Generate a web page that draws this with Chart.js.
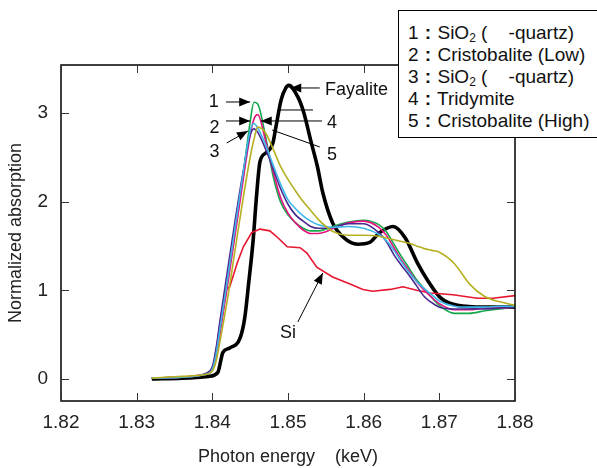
<!DOCTYPE html>
<html>
<head>
<meta charset="utf-8">
<script src="https://cdn.jsdelivr.net/npm/chart.js@4"></script>
<style>
  body { margin: 0; background: #fff; }
  #wrap { position: relative; width: 597px; height: 468px; }
  #legendBox {
    position: absolute; left: 398px; top: 10px; width: 215px; height: 128px;
    box-sizing: border-box; border: 1.5px solid #000; background: #fff;
    padding: 11px 0 0 9px; font: 19px "Liberation Sans", Arial, sans-serif;
    line-height: 22px; color: #111; white-space: pre;
  }
  #legendBox sub { font-size: 12px; line-height: 0; vertical-align: -3px; }
  #legendBox b { margin: 0 1px; }
</style>
</head>
<body>
<div id="wrap">
  <canvas id="chart" width="597" height="468"></canvas>
  <div id="legendBox"></div>
</div>
<script>
// shared energy grid for the SiO2 polymorphs (keV)
const silicaX = [1.832, 1.836, 1.839, 1.840, 1.8405, 1.841, 1.842, 1.843, 1.844, 1.845, 1.8455, 1.846, 1.847, 1.848, 1.849, 1.850, 1.851, 1.852, 1.853, 1.854, 1.855, 1.856, 1.858, 1.860, 1.862, 1.863, 1.864, 1.865, 1.866, 1.867, 1.868, 1.869, 1.870, 1.872, 1.874, 1.876, 1.878, 1.880];
const quartzA = [0.01, 0.02, 0.05, 0.11, 0.28, 0.55, 1.10, 1.68, 2.25, 2.90, 3.12, 3.10, 2.75, 2.30, 2.00, 1.85, 1.76, 1.70, 1.67, 1.67, 1.69, 1.72, 1.77, 1.79, 1.74, 1.66, 1.52, 1.38, 1.25, 1.12, 1.02, 0.92, 0.83, 0.74, 0.74, 0.77, 0.79, 0.81];
const cristoLow = [0.01, 0.02, 0.05, 0.10, 0.25, 0.50, 1.05, 1.62, 2.20, 2.75, 2.93, 2.98, 2.70, 2.35, 2.05, 1.87, 1.76, 1.68, 1.64, 1.64, 1.66, 1.70, 1.76, 1.78, 1.71, 1.62, 1.48, 1.34, 1.22, 1.10, 1.00, 0.92, 0.85, 0.78, 0.78, 0.80, 0.80, 0.81];
const quartzB = [0.01, 0.02, 0.06, 0.14, 0.35, 0.65, 1.22, 1.78, 2.30, 2.75, 2.82, 2.78, 2.60, 2.38, 2.15, 1.97, 1.85, 1.78, 1.72, 1.70, 1.70, 1.71, 1.75, 1.75, 1.65, 1.55, 1.40, 1.28, 1.17, 1.05, 0.93, 0.86, 0.81, 0.79, 0.79, 0.79, 0.80, 0.81];
const tridymite = [0.01, 0.02, 0.05, 0.11, 0.28, 0.56, 1.12, 1.70, 2.28, 2.80, 2.88, 2.83, 2.65, 2.42, 2.20, 2.02, 1.92, 1.84, 1.78, 1.74, 1.72, 1.71, 1.72, 1.70, 1.63, 1.56, 1.45, 1.32, 1.20, 1.10, 1.02, 0.95, 0.88, 0.82, 0.81, 0.81, 0.82, 0.82];
const cristoHigh = [0.01, 0.03, 0.05, 0.09, 0.20, 0.42, 0.90, 1.45, 2.00, 2.50, 2.70, 2.84, 2.78, 2.60, 2.40, 2.25, 2.12, 2.00, 1.90, 1.80, 1.72, 1.66, 1.62, 1.62, 1.61, 1.59, 1.57, 1.55, 1.53, 1.50, 1.47, 1.45, 1.43, 1.30, 1.07, 0.93, 0.87, 0.83];

const fayaliteX = [1.832, 1.836, 1.8395, 1.8407, 1.8414, 1.8423, 1.8437, 1.8443, 1.8448, 1.8454, 1.8458, 1.8463, 1.8471, 1.8480, 1.8484, 1.8491, 1.8497, 1.8501, 1.8513, 1.8521, 1.8530, 1.8539, 1.8546, 1.8559, 1.8573, 1.8592, 1.8608, 1.8621, 1.8639, 1.8655, 1.8671, 1.8684, 1.8701, 1.8724, 1.8760, 1.8800];
const fayaliteY = [0.0, 0.01, 0.03, 0.07, 0.30, 0.35, 0.47, 0.70, 1.08, 1.57, 2.02, 2.45, 2.55, 2.66, 2.84, 3.15, 3.28, 3.31, 3.18, 3.00, 2.69, 2.39, 2.10, 1.76, 1.60, 1.52, 1.54, 1.65, 1.72, 1.59, 1.31, 1.12, 0.92, 0.83, 0.81, 0.81];

const siX = [1.832, 1.836, 1.839, 1.840, 1.8405, 1.841, 1.8417, 1.8423, 1.8433, 1.8441, 1.8452, 1.8463, 1.8476, 1.8487, 1.8499, 1.8516, 1.8525, 1.8538, 1.8559, 1.8582, 1.8599, 1.8612, 1.8635, 1.8652, 1.8670, 1.8688, 1.8718, 1.8750, 1.8771, 1.8800];
const siY = [0.01, 0.02, 0.05, 0.10, 0.30, 0.62, 1.00, 1.04, 1.31, 1.49, 1.65, 1.69, 1.67, 1.59, 1.49, 1.48, 1.42, 1.26, 1.15, 1.07, 1.01, 0.99, 1.01, 1.04, 1.00, 0.97, 0.95, 0.91, 0.91, 0.94];

const xTicks = [1.82, 1.83, 1.84, 1.85, 1.86, 1.87, 1.88];
const yTicks = [0, 1, 2, 3];

const legendLabels = [
  'SiO<sub>2</sub> (    -quartz)',
  'Cristobalite (Low)',
  'SiO<sub>2</sub> (    -quartz)',
  'Tridymite',
  'Cristobalite (High)'
];

// callouts in data units: text position, arrow from -> to
const notes = [
  { text: '1', tx: 1.8402, ty: 3.12, from: [1.8418, 3.123], to: [1.8450, 3.123], head: true },
  { text: '2', tx: 1.8403, ty: 2.83, from: [1.8418, 2.909], to: [1.8450, 2.909], head: true },
  { text: '3', tx: 1.8403, ty: 2.56, from: [1.8419, 2.661], to: [1.8447, 2.796], head: true },
  { text: '4', tx: 1.8558, ty: 2.886, from: [1.8545, 2.909], to: [1.8464, 2.909], head: true },
  { text: '5', tx: 1.8558, ty: 2.525, from: [1.8542, 2.616], to: [1.8479, 2.807], head: false },
  { text: '', from: [1.8486, 3.033], to: [1.8533, 3.033], head: false },
  { text: 'Fayalite', tx: 1.8549, ty: 3.258, align: 'left', from: [1.8542, 3.281], to: [1.8503, 3.281], head: true },
  { text: 'Si', tx: 1.8500, ty: 0.52, from: [1.8513, 0.643], to: [1.8546, 1.195], head: true }
];

const FONT = '"Liberation Sans", Arial, sans-serif';

document.getElementById('legendBox').innerHTML =
  legendLabels.map((t, i) => `${i + 1} <b>:</b> ${t}`).join('<br>');

function pts(xs, ys) {
  return xs.map((x, i) => ({ x: x, y: ys[i] }));
}

function line(label, xs, ys, color, width, smooth) {
  return {
    label: label,
    data: pts(xs, ys),
    borderColor: color,
    borderWidth: width,
    pointRadius: 0,
    fill: false,
    tension: smooth ? 0.4 : 0,
    cubicInterpolationMode: smooth ? 'monotone' : 'default'
  };
}

const framePlugin = {
  id: 'frame',
  afterDraw(chart) {
    const { ctx, chartArea: a, scales: { x, y } } = chart;
    ctx.save();
    ctx.strokeStyle = '#000';
    ctx.lineWidth = 1.5;
    ctx.strokeRect(a.left, a.top, a.right - a.left, a.bottom - a.top);

    ctx.strokeStyle = '#333';
    ctx.lineWidth = 1;
    xTicks.forEach(v => {
      const px = Math.round(x.getPixelForValue(v)) + 0.5;
      ctx.beginPath();
      ctx.moveTo(px, a.bottom); ctx.lineTo(px, a.bottom - 8);
      ctx.moveTo(px, a.top); ctx.lineTo(px, a.top + 8);
      ctx.stroke();
    });
    yTicks.forEach(v => {
      const py = Math.round(y.getPixelForValue(v)) + 0.5;
      ctx.beginPath();
      ctx.moveTo(a.left, py); ctx.lineTo(a.left + 8, py);
      ctx.moveTo(a.right, py); ctx.lineTo(a.right - 8, py);
      ctx.stroke();
    });

    // callouts
    ctx.strokeStyle = '#000';
    ctx.fillStyle = '#000';
    ctx.lineWidth = 1;
    notes.forEach(n => {
      const x0 = x.getPixelForValue(n.from[0]), y0 = y.getPixelForValue(n.from[1]);
      const x1 = x.getPixelForValue(n.to[0]), y1 = y.getPixelForValue(n.to[1]);
      ctx.beginPath();
      ctx.moveTo(x0, y0); ctx.lineTo(x1, y1);
      ctx.stroke();
      if (n.head) {
        const ang = Math.atan2(y1 - y0, x1 - x0);
        ctx.beginPath();
        ctx.moveTo(x1, y1);
        ctx.lineTo(x1 - 11 * Math.cos(ang) + 4.5 * Math.sin(ang), y1 - 11 * Math.sin(ang) - 4.5 * Math.cos(ang));
        ctx.lineTo(x1 - 11 * Math.cos(ang) - 4.5 * Math.sin(ang), y1 - 11 * Math.sin(ang) + 4.5 * Math.cos(ang));
        ctx.closePath();
        ctx.fill();
      }
      if (n.text) {
        ctx.font = '18px ' + FONT;
        ctx.textAlign = n.align || 'center';
        ctx.textBaseline = 'middle';
        ctx.fillStyle = '#111';
        ctx.fillText(n.text, x.getPixelForValue(n.tx), y.getPixelForValue(n.ty));
        ctx.fillStyle = '#000';
      }
    });
    ctx.restore();
  }
};

new Chart(document.getElementById('chart'), {
  type: 'line',
  data: {
    datasets: [
      line('5 Cristobalite (High)', silicaX, cristoHigh, '#b5b022', 1.6, true),
      line('4 Tridymite', silicaX, tridymite, '#3fb6ea', 1.6, true),
      line('3 SiO2 quartz', silicaX, quartzB, '#4a2a8e', 1.6, true),
      line('2 Cristobalite (Low)', silicaX, cristoLow, '#e3147f', 1.6, true),
      line('1 SiO2 quartz', silicaX, quartzA, '#14a84a', 1.6, true),
      line('Si', siX, siY, '#e8162e', 1.6, false),
      line('Fayalite', fayaliteX, fayaliteY, '#000000', 3.6, true)
    ]
  },
  options: {
    responsive: false,
    animation: false,
    devicePixelRatio: 1,
    layout: { padding: { top: 65, right: 82, left: 0, bottom: 0 } },
    plugins: { legend: { display: false }, tooltip: { enabled: false } },
    scales: {
      x: {
        type: 'linear',
        min: 1.82,
        max: 1.88,
        afterFit: s => { s.height = 67; },
        afterBuildTicks: s => { s.ticks = xTicks.map(v => ({ value: v })); },
        grid: { display: false },
        border: { display: false },
        ticks: {
          padding: 2,
          maxRotation: 0,
          color: '#222',
          font: { size: 19, family: FONT },
          callback: v => v.toFixed(2)
        },
        title: {
          display: true,
          text: 'Photon energy    (keV)',
          color: '#222',
          font: { size: 18, family: FONT },
          padding: { top: 0, bottom: 0 }
        }
      },
      y: {
        min: -0.248,
        max: 3.54,
        afterFit: s => { s.width = 61; },
        afterBuildTicks: s => { s.ticks = yTicks.map(v => ({ value: v })); },
        grid: { display: false },
        border: { display: false },
        ticks: {
          padding: 5,
          color: '#222',
          font: { size: 19, family: FONT }
        },
        title: {
          display: true,
          text: 'Normalized absorption',
          color: '#222',
          font: { size: 18, family: FONT },
          padding: { top: 5, bottom: 0 }
        }
      }
    }
  },
  plugins: [framePlugin]
});
</script>
</body>
</html>
